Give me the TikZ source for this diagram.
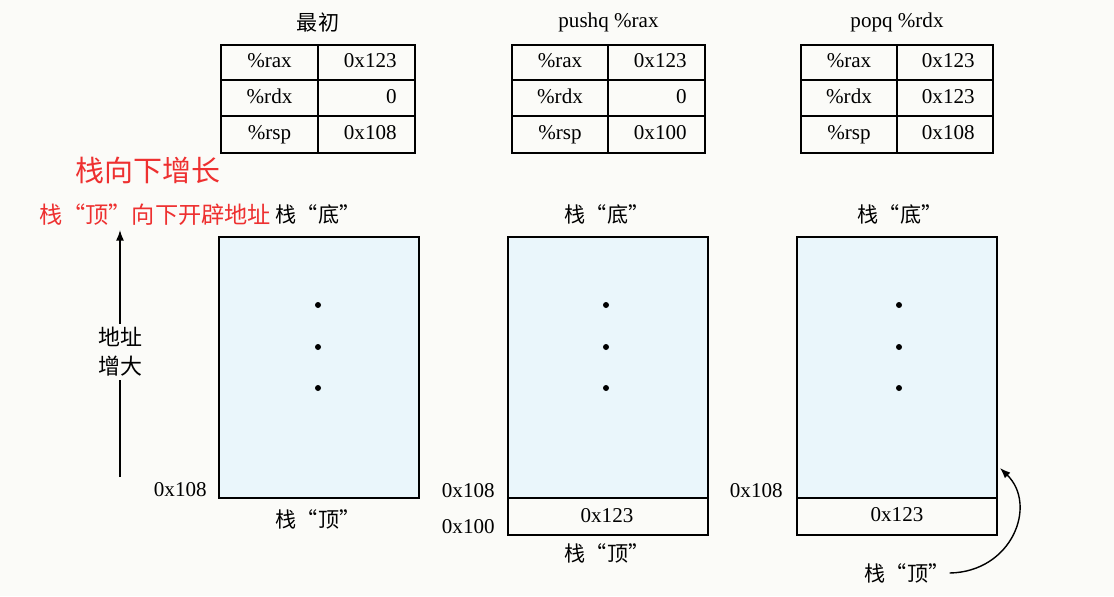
\documentclass[tikz,border=0pt]{standalone}
\usepackage{fontspec}
\setmainfont{Liberation Serif}
\newfontfamily\cjk{Noto Sans CJK SC}
\usetikzlibrary{arrows.meta}
\definecolor{paper}{RGB}{251,251,248}
\definecolor{stackblue}{RGB}{234,246,251}
\definecolor{notered}{RGB}{238,48,48}
\tikzset{
  lbl/.style={font=\fontsize{12}{14}\selectfont, inner sep=0pt},
  cell/.style={lbl, text height=8pt, text depth=2pt},
  cjklbl/.style={font=\cjk\fontsize{12}{14}\selectfont, inner sep=0pt},
  stackbox/.style={draw, line width=0.8pt},
  arr/.style={-{Latex[length=6pt,width=4.5pt]}, line width=0.8pt},
}
\begin{document}
\begin{tikzpicture}[x=0.02cm, y=-0.02cm]
  \fill[paper] (0,0) rectangle (1114,596);
  \useasboundingbox (0,0) rectangle (1114,596);

  % register tables
  \foreach \xl/\xm/\xr/\name/\title/\vrax/\vrdx/\vrsp in
      {221/318/415/init/{\cjk 最初}/0x123/0/0x108,
       512/608/705/push/pushq \%rax/0x123/0/0x100,
       801/897/993/pop/popq \%rdx/0x123/0x123/0x108}{
    \draw[line width=0.8pt] (\xl,45) rectangle (\xr,153);
    \draw[line width=0.8pt] (\xm,45) -- (\xm,153) (\xl,80) -- (\xr,80) (\xl,116) -- (\xr,116);
    \node[lbl] (\name-title) at ({(\xl+\xr)/2},22) {\title};
    \node[cell] (\name-rax) at ({(\xl+\xm)/2},62) {\%rax};
    \node[cell] (\name-rdx) at ({(\xl+\xm)/2},98) {\%rdx};
    \node[cell] (\name-rsp) at ({(\xl+\xm)/2},134) {\%rsp};
    \node[cell, anchor=east] (\name-vrax) at (\xr-18,62) {\vrax};
    \node[cell, anchor=east] (\name-vrdx) at (\xr-18,98) {\vrdx};
    \node[cell, anchor=east] (\name-vrsp) at (\xr-18,134) {\vrsp};
  }

  % stacks
  \fill[stackblue] (219,237) rectangle (419,498);
  \draw[stackbox] (219,237) rectangle (419,498);
  \fill[stackblue] (508,237) rectangle (708,498);
  \draw[stackbox] (508,237) rectangle (708,535) (508,498) -- (708,498);
  \fill[stackblue] (797,237) rectangle (997,498);
  \draw[stackbox] (797,237) rectangle (997,535) (797,498) -- (997,498);
  \foreach \x in {318,606,899}
    \foreach \y in {305,347,388}
      \fill (\x,\y) circle (3);

  \node[cjklbl] (bot1) at (318,214) {栈“底”};
  \node[cjklbl] (bot2) at (607,214) {栈“底”};
  \node[cjklbl] (bot3) at (900,214) {栈“底”};
  \node[cjklbl] (top1) at (318,519) {栈“顶”};
  \node[cjklbl] (top2) at (607,553) {栈“顶”};
  \node[cjklbl] (top3) at (907,573) {栈“顶”};

  \node[lbl, anchor=east] (addr1) at (207,490) {0x108};
  \node[lbl, anchor=east] (addr2) at (495,491) {0x108};
  \node[lbl, anchor=east] (addr2b) at (495,527) {0x100};
  \node[lbl, anchor=east] (addr3) at (783,491) {0x108};
  \node[lbl] (val2) at (607,516) {0x123};
  \node[lbl] (val3) at (897,515) {0x123};

  % stack pointer after popq
  \coordinate (sp3) at (1000,468);
  \draw[arr] (top3.east) .. controls (1012,572) and (1038,505) .. (sp3);

  % address direction
  \coordinate (abot) at (120,477);
  \coordinate (atop) at (120,230);
  \draw[arr] (abot) -- (atop);
  \node[cjklbl, font=\cjk\fontsize{12.5}{16.5}\selectfont, fill=paper, align=center, inner sep=2pt] (grow) at (120,352) {地址\\增大};

  % notes
  \node[font=\cjk\fontsize{16.5}{18}\selectfont, text=notered] (note1) at (148,170) {栈向下增长};
  \node[font=\cjk\fontsize{13.2}{15}\selectfont, text=notered] (note2) at (155,215) {栈“顶”向下开辟地址};
\end{tikzpicture}
\end{document}
